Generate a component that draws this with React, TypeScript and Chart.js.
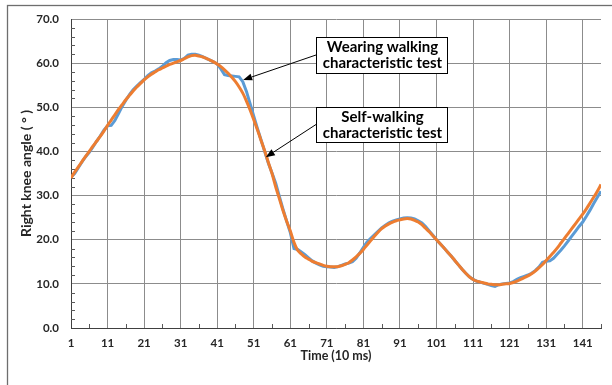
import React, { useEffect, useRef } from "react";
import { Chart, registerables } from "chart.js";

Chart.register(...registerables);

// Self-walking characteristic test (orange, smooth)
const selfWalking = [
  34.0, 35.3, 36.5, 37.7, 38.9, 40.0, 41.2, 42.3, 43.4, 44.6,
  45.9, 47.1, 48.3, 49.5, 50.6, 51.7, 52.7, 53.7, 54.6, 55.4,
  56.2, 56.9, 57.5, 58.0, 58.5, 58.9, 59.3, 59.7, 60.0, 60.3,
  60.6, 61.0, 61.4, 61.7, 61.8, 61.6, 61.4, 61.1, 60.7, 60.3,
  59.8, 59.2, 58.5, 57.7, 56.8, 55.8, 54.6, 53.2, 51.4, 49.4,
  47.2, 44.9, 42.5, 40.1, 37.5, 35.0, 32.0, 29.3, 26.6, 24.2,
  22.0, 19.4, 17.6, 16.8, 16.1, 15.6, 15.1, 14.8, 14.5, 14.2,
  14.0, 13.9, 13.9, 13.9, 14.1, 14.4, 14.8, 15.4, 16.1, 16.9,
  17.8, 18.8, 19.8, 20.8, 21.7, 22.5, 23.1, 23.6, 24.0, 24.3,
  24.5, 24.7, 24.8, 24.7, 24.4, 24.0, 23.4, 22.6, 21.8, 20.9,
  20.0, 19.1, 18.2, 17.2, 16.3, 15.3, 14.3, 13.3, 12.4, 11.6,
  11.0, 10.6, 10.4, 10.2, 10.0, 9.9, 9.8, 9.8, 9.9, 10.0,
  10.1, 10.3, 10.6, 11.0, 11.4, 11.8, 12.3, 12.9, 13.6, 14.4,
  15.3, 16.2, 17.1, 18.1, 19.2, 20.3, 21.4, 22.5, 23.6, 24.7,
  25.8, 27.0, 28.3, 29.6, 31.0, 32.5,
];

// Wearing walking characteristic test (blue)
const wearing = [
  34.2, 35.0, 36.3, 37.6, 38.8, 39.8, 41.0, 42.3, 43.5, 44.8,
  45.8, 45.9, 47.0, 48.6, 50.2, 51.6, 52.9, 54.0, 54.8, 55.6,
  56.3, 57.2, 57.8, 58.2, 58.7, 59.3, 60.1, 60.6, 60.8, 60.8,
  60.7, 61.1, 61.8, 62.0, 62.0, 61.8, 61.5, 61.1, 60.7, 60.3,
  59.8, 58.7, 57.4, 57.2, 57.1, 57.0, 56.9, 55.8, 53.6, 50.8,
  48.0, 45.2, 42.6, 40.0, 37.3, 35.1, 32.8, 29.8, 26.9, 24.2,
  21.6, 18.0, 17.8, 17.2, 16.6, 15.9, 15.2, 14.7, 14.3, 14.0,
  13.9, 13.8, 13.7, 13.9, 14.2, 14.5, 14.7, 15.0, 15.8, 17.0,
  18.3, 19.5, 20.3, 21.1, 21.9, 22.7, 23.3, 23.8, 24.2, 24.5,
  24.7, 24.9, 25.0, 24.9, 24.7, 24.3, 23.8, 23.0, 22.0, 21.0,
  20.0, 19.1, 18.2, 17.2, 16.3, 15.3, 14.3, 13.3, 12.4, 11.6,
  11.0, 10.6, 10.4, 10.1, 9.9, 9.6, 9.4, 9.8, 10.0, 10.1,
  10.2, 10.5, 11.0, 11.4, 11.7, 12.0, 12.4, 13.0, 13.8, 14.9,
  15.1, 15.2, 15.8, 16.7, 17.6, 18.6, 19.7, 20.8, 21.9, 23.0,
  24.0, 25.3, 26.7, 28.2, 29.6, 31.0,
];

const time = selfWalking.map((_, i) => i + 1);
const xTickValues = [1, 11, 21, 31, 41, 51, 61, 71, 81, 91, 101, 111, 121, 131, 141];
const yTickValues = [0, 10, 20, 30, 40, 50, 60, 70];
const yMinorStep = 2;
const xMinorTicks = [6, 16, 26, 36, 46, 56, 66, 76, 86, 96, 106, 116, 126, 136, 146];

const noteLines1 = ["Wearing walking", "characteristic test"];
const noteLines2 = ["Self-walking", "characteristic test"];
const noteTip1 = { t: 48.1, v: 56.2 };
const noteTip2 = { t: 54.3, v: 38.7 };

const FONT = "Lato, 'Open Sans', sans-serif";
const TEXT = "#262626";

const decorPlugin = {
  id: "decor",
  beforeDatasetsDraw(chart: any) {
    const { ctx, chartArea, scales } = chart;
    const x = scales.x;
    const y = scales.y;
    ctx.save();
    ctx.strokeStyle = "#595959";
    ctx.lineWidth = 1;
    ctx.beginPath();
    for (let v = yMinorStep; v < 70; v += yMinorStep) {
      if (v % 10 === 0) continue;
      const py = Math.round(y.getPixelForValue(v)) + 0.5;
      ctx.moveTo(chartArea.left, py);
      ctx.lineTo(chartArea.left + 4, py);
    }
    for (const t of xMinorTicks) {
      const px = Math.round(x.getPixelForValue(t)) + 0.5;
      ctx.moveTo(px, chartArea.bottom);
      ctx.lineTo(px, chartArea.bottom - 4);
    }
    ctx.stroke();
    ctx.restore();
  },
  afterDraw(chart: any) {
    const { ctx, scales } = chart;
    const x = scales.x;
    const y = scales.y;
    ctx.save();
    // outer frame
    ctx.strokeStyle = "#6e6e6e";
    ctx.lineWidth = 1.3;
    ctx.strokeRect(7.5, 5.5, 800, 600);

    const notes = [
      { lines: noteLines1, box: [316, 37, 131, 36], tip: noteTip1 },
      { lines: noteLines2, box: [316, 107, 131, 35], tip: noteTip2 },
    ];
    for (const n of notes) {
      const [bx, by, bw, bh] = n.box;
      const tx = x.getPixelForValue(n.tip.t);
      const ty = y.getPixelForValue(n.tip.v);
      const sx = bx;
      const sy = by + bh / 2;
      const ang = Math.atan2(ty - sy, tx - sx);
      const headLen = 9;
      const headW = 3.5;
      const bxh = tx - headLen * Math.cos(ang);
      const byh = ty - headLen * Math.sin(ang);
      ctx.strokeStyle = "#000";
      ctx.fillStyle = "#000";
      ctx.lineWidth = 1;
      ctx.beginPath();
      ctx.moveTo(sx, sy);
      ctx.lineTo(bxh, byh);
      ctx.stroke();
      ctx.beginPath();
      ctx.moveTo(tx, ty);
      ctx.lineTo(bxh + headW * Math.sin(ang), byh - headW * Math.cos(ang));
      ctx.lineTo(bxh - headW * Math.sin(ang), byh + headW * Math.cos(ang));
      ctx.closePath();
      ctx.fill();
      ctx.fillStyle = "#fff";
      ctx.fillRect(bx, by, bw, bh);
      ctx.strokeStyle = "#000";
      ctx.lineWidth = 1;
      ctx.strokeRect(bx + 0.5, by + 0.5, bw, bh);
      ctx.fillStyle = "#000";
      ctx.font = `bold 15px ${FONT}`;
      ctx.textAlign = "center";
      ctx.textBaseline = "middle";
      n.lines.forEach((line: string, i: number) => {
        ctx.fillText(line, bx + bw / 2 + 1, by + 10 + i * 16);
      });
    }
    ctx.restore();
  },
};

export default function App() {
  const ref = useRef<HTMLCanvasElement | null>(null);
  useEffect(() => {
    if (!ref.current) return;
    const chart = new Chart(ref.current, {
      type: "line",
      data: {
        datasets: [
          {
            label: "Self-walking characteristic test",
            data: time.map((t, i) => ({ x: t, y: selfWalking[i] })),
            borderColor: "#ED7D31",
            borderWidth: 3,
            pointRadius: 0,
            tension: 0.3,
          },
          {
            label: "Wearing walking characteristic test",
            data: time.map((t, i) => ({ x: t, y: wearing[i] })),
            borderColor: "#5B9BD5",
            borderWidth: 3,
            pointRadius: 0,
            tension: 0,
          },
        ],
      },
      options: {
        animation: false,
        responsive: true,
        maintainAspectRatio: false,
        layout: { padding: { left: 0, top: 19, right: 11, bottom: 0 } },
        plugins: { legend: { display: false }, tooltip: { enabled: false } },
        scales: {
          x: {
            type: "linear",
            min: 1,
            max: 146,
            afterBuildTicks: (s: any) => {
              s.ticks = xTickValues.map((v) => ({ value: v }));
            },
            afterFit: (s: any) => {
              s.height = 57;
            },
            grid: {
              color: (c: any) => (c.tick && c.tick.value === 1 ? "rgba(0,0,0,0)" : "#8c8c8c"),
              drawTicks: false,
              lineWidth: 1,
            },
            border: { color: "#404040", width: 1 },
            ticks: {
              font: { family: FONT, weight: "bold", size: 11.5 },
              color: TEXT,
              padding: 8,
              maxRotation: 0,
              autoSkip: false,
              callback: (v: any) => String(v),
            },
            title: {
              display: true,
              text: "Time (10 ms)",
              font: { family: FONT, weight: "bold", size: 12.5 },
              color: TEXT,
              padding: { top: 0, bottom: 22 },
            },
          },
          y: {
            min: 0,
            max: 70,
            afterBuildTicks: (s: any) => {
              s.ticks = yTickValues.map((v) => ({ value: v }));
            },
            afterFit: (s: any) => {
              s.width = 71;
            },
            grid: { color: "#8c8c8c", drawTicks: false, lineWidth: 1 },
            border: { color: "#404040", width: 1 },
            ticks: {
              font: { family: FONT, weight: "bold", size: 11.5 },
              color: TEXT,
              padding: 12,
              callback: (v: any) => Number(v).toFixed(1),
            },
            title: {
              display: true,
              text: "Right knee angle ( ° )",
              font: { family: FONT, weight: "bold", size: 14 },
              color: TEXT,
              padding: { top: 18, bottom: 0 },
            },
          },
        },
      },
      plugins: [decorPlugin],
    });
    return () => chart.destroy();
  }, []);
  return (
    <div style={{ position: "fixed", left: 0, top: 0, width: 612, height: 385, background: "#fff" }}>
      <canvas ref={ref} />
    </div>
  );
}
